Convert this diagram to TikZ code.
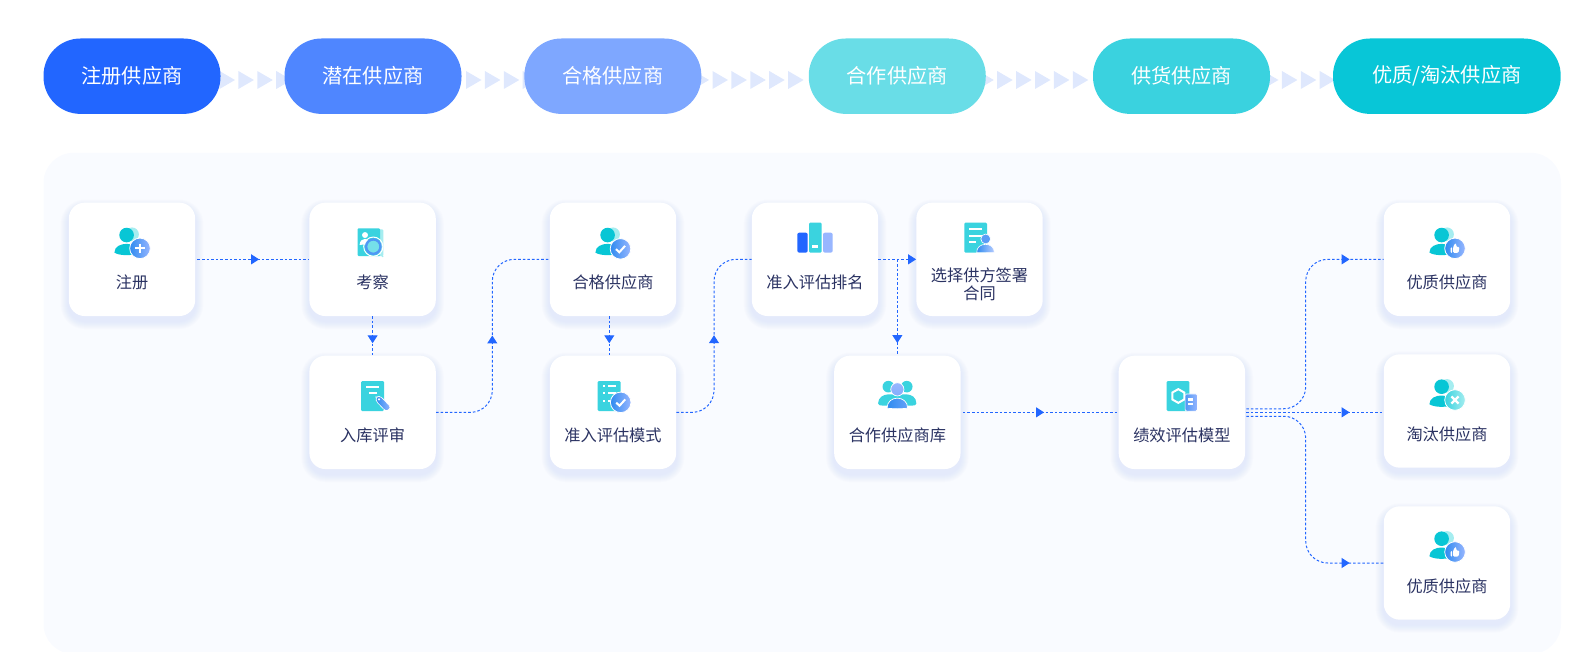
\documentclass[tikz,border=0pt]{standalone}
\usepackage{fontspec}
\setmainfont{Noto Sans CJK SC}
\usepackage{tikz}
\usetikzlibrary{arrows.meta, calc, decorations.markings}

\definecolor{flowblue}{HTML}{2266FF}
\definecolor{panelbg}{HTML}{F9FBFF}
\definecolor{labelnavy}{HTML}{2A3262}
\definecolor{chevronblue}{HTML}{DFE8FD}
\definecolor{shadowblue}{HTML}{CFDDFB}
\definecolor{tealmain}{HTML}{08C6D5}
\definecolor{tealdoc}{HTML}{3AD3DF}
\definecolor{tealghost}{HTML}{A5EDF0}
\definecolor{badgeleft}{HTML}{2F8BF0}
\definecolor{badgeright}{HTML}{98B6FF}
\definecolor{stageblueB}{HTML}{4F86FF}
\definecolor{stageblueC}{HTML}{7EA7FF}
\definecolor{stagetealD}{HTML}{69DDE7}
\definecolor{stagetealE}{HTML}{3AD2DF}
\definecolor{stagetealF}{HTML}{08C6D7}

\tikzset{
  >={Triangle[length=8pt,width=10pt]},
  stagepill/.style={fill=#1, rounded corners=37pt, minimum width=177pt, minimum height=75.4pt, inner sep=0pt, text=white, font=\fontsize{20.2}{24}\selectfont},
  cardbox/.style={fill=white, rounded corners=16pt, minimum width=126.4pt, minimum height=113.4pt, inner sep=0pt},
  cardlabel/.style={text=labelnavy, align=center, inner sep=0pt, font=\fontsize{16.2}{18.5}\selectfont},
  flowline/.style={color=flowblue, line width=1pt, dash pattern=on 2.6pt off 2pt, rounded corners=22pt},
  midtip/.style={postaction={decorate, decoration={markings, mark=at position #1 with {\arrow{>}}}}},
}

% Card with its soft shadow and its label
\newcommand{\card}[5][23]{%
  \foreach \g in {8,7,...,1} {
    \fill[shadowblue, opacity=0.07, rounded corners={16pt+\g pt}] (#3-63.2-\g, #4-56.7-\g+5) rectangle (#3+63.2+\g, #4+56.7+\g+5);
  }
  \node[cardbox] (#2) at (#3,#4) {};
  \node[cardlabel] (#2label) at ($(#2.center)+(0,#1)$) {#5};
}
% Icon parts, origin at the centre of the card
\newcommand{\drawperson}{%
  \fill[tealghost] (0,-25) circle (6.9);
  \fill[tealmain] (-5.4,-24.3) circle (7.3);
  \fill[tealmain] (-17.6,-6.8) .. controls (-17.6,-13) and (-11,-15.5) .. (-5.4,-15.5) .. controls (0,-15.5) and (5,-13) .. (5,-5.4) .. controls (-2,-3.6) and (-13,-3.6) .. (-17.6,-6.8) -- cycle;
}
\newcommand{\drawbadge}[4]{%
  \draw[white, line width=0.8pt, left color=#3, right color=#4] (#1,#2) circle (10.3);
}
\newcommand{\drawcheck}[2]{%
  \draw[white, line width=2pt] (#1-4.5,#2+0.3) -- (#1-1.2,#2+3.4) -- (#1+4.6,#2-3);
}
\newcommand{\drawthumb}[2]{%
  \fill[white, rounded corners=1pt] (#1-4.5,#2-1) rectangle (#1-2.8,#2+4.5);
  \fill[white, rounded corners=1.2pt] (#1-2,#2-1) -- (#1,#2-5) -- (#1+1.5,#2-4.5) -- (#1+1,#2-1.5) -- (#1+4.5,#2-1.5) -- (#1+3.5,#2+4.5) -- (#1-2,#2+4.5) -- cycle;
}

\begin{document}
\begin{tikzpicture}[x=1pt, y=-1pt]
\useasboundingbox (0,0) rectangle (1587,652);
\pgfmathsetmacro{\rowTop}{259.35}
\pgfmathsetmacro{\rowLow}{412.35}
\pgfmathsetmacro{\stageY}{76.2}

% Chevrons between the stages
\foreach \start/\num in {219.5/3, 466/3, 693.6/5, 978.3/5, 1263/3} {
  \foreach \k in {0,...,\num} {
    \pgfmathsetmacro{\chevX}{\start+18.9*\k}
    \fill[chevronblue] (\chevX,71) -- (\chevX+15.5,80) -- (\chevX,89) -- cycle;
  }
}

% Stages
\node[stagepill=flowblue] (stageA) at (132,\stageY) {注册供应商};
\node[stagepill=stageblueB] (stageB) at (373,\stageY) {潜在供应商};
\node[stagepill=stageblueC] (stageC) at (612.85,\stageY) {合格供应商};
\node[stagepill=stagetealD] (stageD) at (897.25,\stageY) {合作供应商};
\node[stagepill=stagetealE] (stageE) at (1181.5,\stageY) {供货供应商};
\node[stagepill=stagetealF, minimum width=227.7pt] (stageF) at (1446.85,\stageY) {优质/淘汰供应商};

% Panel
\fill[panelbg, rounded corners=30pt] (43.5,152.8) rectangle (1561,654);

% Cards
\card{zhuce}{132}{\rowTop}{注册}
\card{kaocha}{372.6}{\rowTop}{考察}
\card{ruku}{372.6}{\rowLow}{入库评审}
\card{hege}{613}{\rowTop}{合格供应商}
\card{moshi}{613}{\rowLow}{准入评估模式}
\card{paiming}{815}{\rowTop}{准入评估排名}
\card[25]{hetong}{979.5}{\rowTop}{选择供方签署\\合同}
\card{hezuo}{897.35}{\rowLow}{合作供应商库}
\card{jixiao}{1181.85}{\rowLow}{绩效评估模型}
\card{youzhi}{1447}{\rowTop}{优质供应商}
\card{taotai}{1447}{411}{淘汰供应商}
\card{youzhib}{1447}{563}{优质供应商}

% Turning columns of the connectors
\coordinate (busA) at (492.3,0);
\coordinate (busB) at (714,0);
\coordinate (busC) at (1305.7,0);

% Connectors
\draw[flowline, midtip=61.7pt] ($(zhuce.east)+(2,0)$) -- (kaocha.west);
\draw[flowline, midtip=27pt] (kaocha.south) -- (ruku.north);
\draw[flowline, midtip=-124pt] (ruku.east) -- (ruku.east -| busA) -- (busA |- hege.west) -- (hege.west);
\draw[flowline, midtip=27pt] ($(hege.south)+(-3.7,0)$) -- ($(moshi.north)+(-3.7,0)$);
\draw[flowline, midtip=-104pt] (moshi.east) -- (moshi.east -| busB) -- (busB |- paiming.west) -- (paiming.west);
\draw[flowline, ->] (paiming.east) -- (hetong.west);
\draw[flowline, midtip=83.7pt] (hezuo.north |- paiming.east) -- (hezuo.north);
\draw[flowline, midtip=81.3pt] ($(hezuo.east)+(2,0)$) -- (jixiao.west);
\draw[flowline, midtip=-34pt] ($(jixiao.east)+(1,-3.6)$) -- ($(jixiao.east -| busC)+(0,-3.6)$) -- (busC |- youzhi.west) -- (youzhi.west);
\draw[flowline, midtip=-34pt] ($(jixiao.east)+(1,0)$) -- (jixiao.east -| taotai.west);
\draw[flowline, midtip=-34pt] ($(jixiao.east)+(1,3.9)$) -- ($(jixiao.east -| busC)+(0,3.9)$) -- (busC |- youzhib.west) -- (youzhib.west);

% Icon: register
\begin{scope}[shift={(zhuce.center)}]
\drawperson
\drawbadge{8}{-11}{badgeleft}{badgeright}
\draw[white, line width=2pt] (3.2,-11) -- (12.8,-11) (8,-15.8) -- (8,-6.2);
\end{scope}

% Icon: inspect
\begin{scope}[shift={(kaocha.center)}]
\fill[tealghost, rounded corners=1pt] (-2,-30) rectangle (10.7,-3.3);
\fill[tealdoc, rounded corners=1pt] (-15,-31) rectangle (7.4,-3.3);
\fill[white] (-7.6,-24.3) circle (3);
\fill[white] (-13,-14.5) .. controls (-13,-18.5) and (-10,-20.5) .. (-7.6,-20.5) .. controls (-5,-20.5) and (-3,-18.5) .. (-3,-15) -- cycle;
\draw[tealghost, line width=1.4pt] (6,-7) -- (10.4,-2.6);
\draw[white, line width=1pt] (0.7,-12.7) circle (9.6);
\draw[badgeleft!70!badgeright, line width=2.4pt, fill=tealdoc!70!white] (0.7,-12.7) circle (7.2);
\end{scope}

% Icon: review
\begin{scope}[shift={(ruku.center)}]
\fill[tealdoc, rounded corners=1.2pt] (-11.6,-31.3) rectangle (11.4,-1.3);
\fill[white] (-6.6,-25.9) rectangle (6.4,-24.1);
\fill[white] (-3.6,-19.9) rectangle (4.1,-18.1);
\draw[white, line width=0.6pt, left color=badgeleft, right color=badgeright, rounded corners=2.5pt] (3.4,-15.6) -- (8,-16) -- (18.4,-5) -- (15,-1.4) -- (12.6,-1.6) -- (3.6,-11) -- cycle;
\fill[white] (6.4,-13) circle (1.2);
\end{scope}

% Icon: qualified
\begin{scope}[shift={(hege.center)}]
\drawperson
\drawbadge{7.5}{-10.5}{badgeleft}{badgeright}
\drawcheck{7.5}{-10.5}
\end{scope}

% Icon: admission model
\begin{scope}[shift={(moshi.center)}]
\fill[tealdoc, rounded corners=1.2pt] (-15.3,-31.3) rectangle (7.7,-1.3);
\foreach \y in {-26.4,-18.9,-11.4} {
  \fill[white] (-10,\y-1) rectangle (-8,\y+1);
  \fill[white] (-5.5,\y-1) rectangle (2.5,\y+1);
}
\drawbadge{7.7}{-10}{badgeleft}{badgeright}
\drawcheck{7.7}{-10}
\end{scope}

% Icon: ranking
\begin{scope}[shift={(paiming.center)}]
\fill[flowblue, rounded corners=2pt] (-17.7,-26.7) rectangle (-7.3,-6.7);
\fill[tealdoc, rounded corners=1.2pt] (-6,-36.7) rectangle (6.7,-6.7);
\fill[white] (-3,-14.4) rectangle (3.3,-11);
\fill[badgeright, rounded corners=2pt] (8,-26.7) rectangle (17.7,-6.7);
\end{scope}

% Icon: contract
\begin{scope}[shift={(hetong.center)}]
\fill[tealdoc, rounded corners=1.2pt] (-15.2,-36.7) rectangle (7.5,-6.7);
\fill[white] (-10.2,-31.2) rectangle (2.2,-29.4);
\fill[white] (-10.2,-24.6) rectangle (5.5,-22.8);
\fill[white] (-10.2,-18.6) rectangle (-3.8,-16.8);
\draw[white, line width=0.6pt, fill=badgeleft!60!badgeright] (6.2,-20.4) circle (4.9);
\draw[white, line width=0.6pt, left color=badgeleft, right color=badgeright!70!white] (-2.8,-6.6) .. controls (-3,-12) and (1,-15) .. (6,-15) .. controls (11,-15) and (15,-12) .. (14.8,-6.6) -- cycle;
\end{scope}

% Icon: partner pool
\begin{scope}[shift={(hezuo.center)}]
\fill[tealdoc] (-9,-25.7) circle (5.8);
\fill[tealdoc] (9.4,-25.7) circle (5.8);
\fill[tealdoc] (-19.3,-9) .. controls (-19,-15) and (-14,-18) .. (-9,-18) -- (9,-18) .. controls (14,-18) and (19,-15) .. (19,-9) .. controls (19,-7) and (17,-6.8) .. (15,-6.8) -- (-15,-6.8) .. controls (-17,-6.8) and (-19.3,-7) .. (-19.3,-9) -- cycle;
\draw[white, line width=0.7pt, top color=badgeright, bottom color=badgeright!80!badgeleft] (0,-23) circle (6.6);
\draw[white, line width=0.7pt, left color=badgeleft, right color=badgeright!50!badgeleft] (-10.3,-4.2) .. controls (-10.3,-11) and (-5,-14.2) .. (0,-14.2) .. controls (5,-14.2) and (10.3,-11) .. (10.3,-4.2) .. controls (5,-3.4) and (-5,-3.4) .. (-10.3,-4.2) -- cycle;
\end{scope}

% Icon: evaluation model
\begin{scope}[shift={(jixiao.center)}]
\fill[tealdoc, rounded corners=1.2pt] (-15.2,-31.3) rectangle (7.5,-1.3);
\draw[white, line width=2pt] (-3.55,-23.2) -- ++(6,3.4) -- ++(0,6.9) -- ++(-6,3.4) -- ++(-6,-3.4) -- ++(0,-6.9) -- cycle;
\draw[white, line width=0.6pt, left color=badgeleft!70!badgeright, right color=badgeright, rounded corners=1.5pt] (3.2,-18.4) rectangle (15.6,-1.2);
\fill[white] (6.6,-14) rectangle (11.6,-11.6);
\fill[white] (6.6,-9.4) rectangle (11.6,-7);
\end{scope}

% Icons: outcome
\begin{scope}[shift={(youzhi.center)}]
\drawperson
\drawbadge{8}{-11}{badgeleft}{badgeright}
\drawthumb{8}{-11}
\end{scope}
\begin{scope}[shift={(taotai.center)}]
\drawperson
\drawbadge{8}{-11}{tealdoc}{tealghost}
\draw[white, line width=2.2pt] (4.4,-14.6) -- (11.6,-7.4) (4.4,-7.4) -- (11.6,-14.6);
\end{scope}
\begin{scope}[shift={(youzhib.center)}]
\drawperson
\drawbadge{8}{-11}{badgeleft}{badgeright}
\drawthumb{8}{-11}
\end{scope}

\end{tikzpicture}
\end{document}
